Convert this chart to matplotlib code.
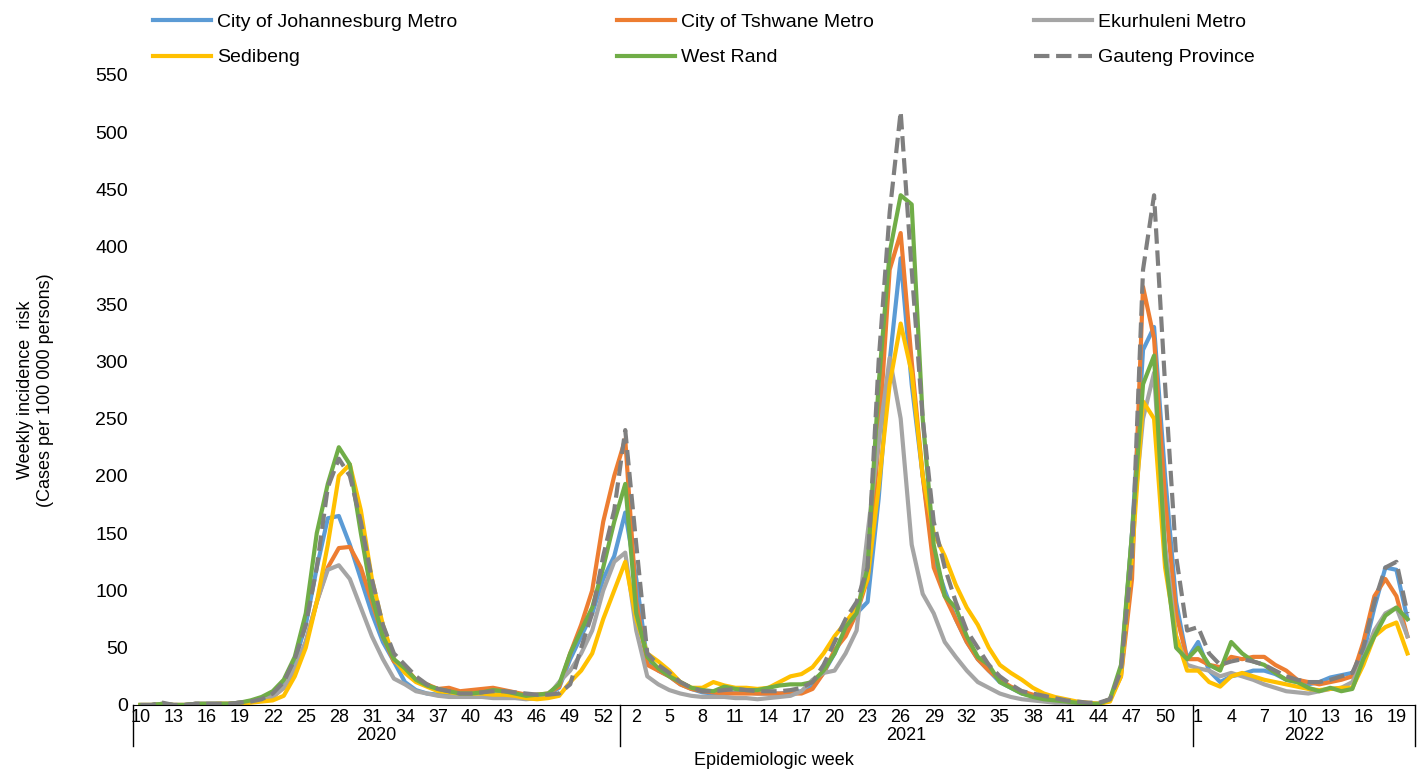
import matplotlib
matplotlib.use("Agg")
import matplotlib.pyplot as plt
import numpy as np

# epidemiologic weeks: 2020 w10-53, 2021 w1-52, 2022 w1-20
weeks_2020 = list(range(10, 54))
weeks_2021 = list(range(1, 53))
weeks_2022 = list(range(1, 21))
years = ["2020", "2021", "2022"]

johannesburg = [
    0, 0, 1, 0, 0, 1, 1, 1, 1, 2, 3, 5, 8, 18, 38, 70, 120, 163, 165, 140, 110, 80, 55, 38, 20, 13, 10, 9, 8, 8, 9, 10, 10, 9, 8, 8, 8, 9, 15, 40, 60, 80, 110, 130,
    168, 110, 38, 30, 25, 18, 14, 11, 10, 10, 11, 11, 10, 10, 10, 11, 12, 16, 28, 45, 65, 80, 90, 180, 300, 390, 280, 200, 130, 100, 75, 55, 40, 30, 20, 15, 10, 8, 6, 5, 3, 2, 1, 1, 4, 30, 150, 310, 330, 200, 90, 40,
    55, 30, 20, 25, 27, 30, 30, 27, 22, 20, 18, 20, 24, 26, 28, 45, 85, 120, 118, 75,
]
tshwane = [
    0, 0, 1, 0, 0, 1, 1, 1, 1, 2, 3, 4, 7, 15, 30, 55, 90, 120, 137, 138, 120, 90, 60, 38, 33, 22, 18, 14, 15, 12, 13, 14, 15, 13, 11, 9, 9, 10, 16, 45, 70, 100, 160, 200,
    232, 90, 35, 30, 25, 18, 14, 12, 11, 10, 10, 10, 10, 10, 10, 10, 10, 14, 28, 48, 60, 80, 110, 230, 380, 412, 300, 200, 120, 95, 75, 55, 40, 30, 22, 16, 12, 9, 7, 5, 3, 2, 1, 1, 5, 25, 110, 365, 320, 180, 80, 40,
    40, 35, 33, 42, 40, 42, 42, 35, 30, 22, 20, 18, 20, 22, 25, 55, 95, 110, 95, 60,
]
ekurhuleni = [
    0, 0, 1, 0, 0, 1, 1, 1, 1, 2, 3, 4, 7, 15, 32, 55, 90, 118, 122, 110, 85, 60, 40, 23, 18, 12, 10, 8, 7, 7, 7, 7, 6, 6, 6, 5, 6, 8, 20, 30, 45, 65, 100, 125,
    133, 65, 25, 18, 13, 10, 8, 7, 7, 7, 6, 6, 5, 6, 7, 8, 12, 22, 28, 30, 45, 65, 150, 230, 303, 250, 140, 97, 80, 55, 42, 30, 20, 15, 10, 7, 5, 4, 3, 2, 2, 1, 1, 1, 5, 28, 150, 250, 290, 140, 60, 35,
    32, 30, 25, 28, 25, 22, 18, 15, 12, 11, 10, 12, 14, 15, 20, 40, 65, 80, 85, 60,
]
sedibeng = [
    0, 0, 0, 0, 0, 0, 0, 1, 1, 1, 2, 3, 4, 8, 25, 50, 90, 140, 200, 210, 170, 110, 70, 40, 28, 20, 16, 12, 11, 10, 10, 10, 9, 9, 8, 6, 5, 6, 8, 20, 30, 45, 75, 100,
    125, 75, 45, 38, 30, 20, 15, 15, 20, 17, 15, 15, 14, 15, 20, 25, 27, 33, 45, 60, 72, 85, 110, 190, 280, 333, 290, 200, 150, 130, 105, 85, 70, 50, 35, 28, 22, 15, 10, 7, 5, 3, 2, 1, 3, 25, 130, 265, 250, 120, 60, 30,
    30, 20, 16, 25, 28, 25, 22, 20, 18, 16, 14, 13, 14, 15, 15, 35, 60, 68, 72, 45,
]
west_rand = [
    0, 0, 1, 0, 0, 1, 1, 1, 1, 2, 4, 7, 12, 22, 42, 80, 150, 193, 225, 210, 150, 95, 60, 40, 32, 22, 17, 14, 12, 10, 10, 11, 13, 12, 10, 8, 9, 10, 18, 45, 65, 85, 120, 160,
    193, 80, 42, 32, 25, 20, 15, 13, 12, 16, 14, 13, 13, 15, 17, 18, 18, 20, 30, 45, 68, 80, 120, 280, 395, 445, 437, 250, 140, 95, 85, 60, 42, 35, 20, 15, 10, 7, 5, 4, 3, 2, 1, 1, 5, 35, 150, 280, 305, 130, 50, 40,
    50, 35, 30, 55, 45, 38, 35, 28, 22, 20, 15, 12, 15, 12, 14, 40, 60, 78, 85, 75,
]
gauteng = [
    0, 0, 2, 0, 0, 1, 1, 1, 1, 2, 3, 5, 10, 20, 40, 70, 120, 190, 215, 200, 160, 110, 70, 45, 35, 25, 18, 14, 12, 10, 10, 11, 12, 12, 11, 10, 9, 9, 10, 18, 50, 80, 130, 170,
    240, 140, 45, 35, 28, 20, 15, 12, 12, 13, 14, 13, 12, 12, 12, 13, 15, 20, 35, 55, 75, 90, 120, 300, 430, 518, 380, 250, 160, 120, 90, 65, 50, 35, 25, 18, 12, 10, 8, 6, 4, 3, 2, 2, 5, 30, 130, 380, 445, 280, 130, 65,
    68, 45, 35, 38, 40, 38, 35, 30, 25, 22, 20, 20, 22, 25, 28, 50, 90, 120, 125, 80,
]

tick_labels = [str(w) for w in weeks_2020 + weeks_2021 + weeks_2022]
n = len(tick_labels)
x = np.arange(n)

plt.rcParams["font.family"] = ["Liberation Sans", "DejaVu Sans"]
fig = plt.figure(figsize=(14.28, 7.73), dpi=100)
ax = fig.add_axes([0.093, 0.088, 0.898, 0.815])

series = [
    ("City of Johannesburg Metro", johannesburg, "#5B9BD5", "-"),
    ("City of Tshwane Metro", tshwane, "#ED7D31", "-"),
    ("Ekurhuleni Metro", ekurhuleni, "#A5A5A5", "-"),
    ("Sedibeng", sedibeng, "#FFC000", "-"),
    ("West Rand", west_rand, "#70AD47", "-"),
    ("Gauteng Province", gauteng, "#7F7F7F", "--"),
]
handles = {}
for name, vals, color, ls in series:
    (h,) = ax.plot(x[:len(vals)], vals, color=color, lw=3, ls=ls, label=name)
    handles[name] = h

order = ["City of Johannesburg Metro", "Sedibeng", "City of Tshwane Metro",
         "West Rand", "Ekurhuleni Metro", "Gauteng Province"]
fig.legend([handles[k] for k in order], order, ncol=3, loc="upper left",
           bbox_to_anchor=(0.095, 1.005), frameon=False, fontsize=14,
           handlelength=3, handletextpad=0.3, columnspacing=8.2, labelspacing=0.9)

ax.set_xlim(-0.7, n - 0.3)
ax.set_ylim(0, 550)
ax.set_yticks(range(0, 551, 50))
ax.tick_params(axis="y", labelsize=14, length=0)
ax.set_xticks(x[::3])
ax.set_xticklabels(tick_labels[::3], fontsize=13)
ax.tick_params(axis="x", length=0, pad=3)
for s in ["top", "right", "left"]:
    ax.spines[s].set_visible(False)
ax.set_ylabel("Weekly incidence  risk\n(Cases per 100 000 persons)", fontsize=13, labelpad=30)

# year grouping below the axis
bounds = [-0.7, len(weeks_2020) - 0.5, len(weeks_2020) + len(weeks_2021) - 0.5, n - 0.3]
trans = ax.get_xaxis_transform()
for b in bounds:
    ax.plot([b, b], [0, -0.065], color="black", lw=1, transform=trans, clip_on=False)
for yr, a, b in zip(years, bounds[:-1], bounds[1:]):
    ax.text((a + b) / 2, -0.048, yr, transform=trans, ha="center", va="center", fontsize=13)
ax.text(0.5, -0.088, "Epidemiologic week", transform=ax.transAxes, ha="center", va="center", fontsize=13)

fig.savefig("out.png", dpi=100)
